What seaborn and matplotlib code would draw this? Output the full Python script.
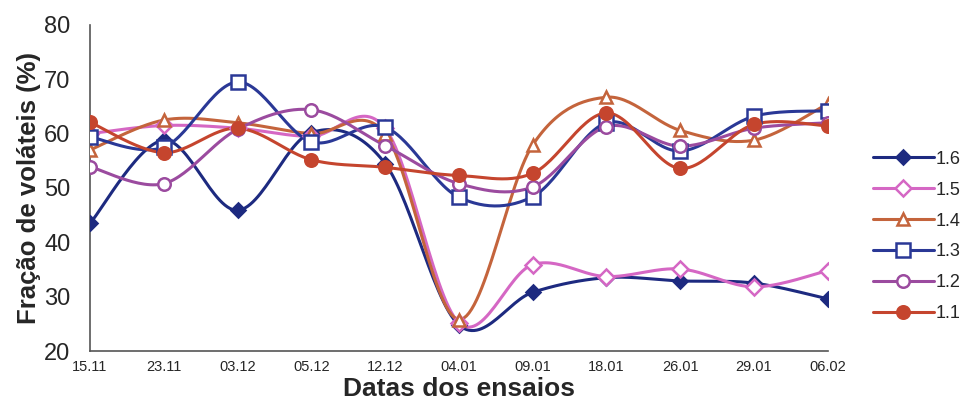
import numpy as np
import pandas as pd
import matplotlib
matplotlib.use("Agg")
import matplotlib.pyplot as plt
import seaborn as sns
from matplotlib.lines import Line2D

dates = ["15.11", "23.11", "03.12", "05.12", "12.12", "04.01", "09.01", "18.01", "26.01", "29.01", "06.02"]
s16 = [43.5, 58.8, 45.9, 60.2, 54.5, 24.8, 30.8, 33.5, 32.9, 32.5, 29.6]
s15 = [60.0, 61.5, 61.0, 59.5, 61.0, 25.2, 35.9, 33.7, 35.1, 31.8, 34.8]
s14 = [57.0, 62.5, 62.0, 60.0, 60.0, 25.8, 57.9, 66.7, 60.6, 58.8, 65.5]
s13 = [59.4, 57.5, 69.5, 58.5, 61.2, 48.3, 48.4, 62.0, 56.8, 63.2, 64.2]
s12 = [53.9, 50.8, 60.8, 64.4, 57.8, 50.8, 50.2, 61.3, 57.7, 61.0, 62.0]
s11 = [62.1, 56.5, 61.0, 55.2, 53.8, 52.3, 52.7, 63.8, 53.6, 61.7, 61.4]
names = ["1.6", "1.5", "1.4", "1.3", "1.2", "1.1"]
series = [s16, s15, s14, s13, s12, s11]

colors = ["#1d2a80", "#d567c4", "#c4643c", "#2a3896", "#9b4b9f", "#c5452e"]
markers = ["D", "D", "^", "s", "o", "o"]
faces = ["#1d2a80", "white", "white", "white", "white", "#c5452e"]
msizes = [7, 8, 9, 10, 9, 9]


def smooth(y, n=30):
    y = np.asarray(y, float)
    x = np.arange(len(y), dtype=float)
    P = np.column_stack([x, y])
    Pe = np.vstack([P[0], P, P[-1]])
    out = []
    t = np.linspace(0, 1, n)[:, None]
    for i in range(len(P) - 1):
        p0, p3 = Pe[i + 1], Pe[i + 2]
        c1 = p0 + (Pe[i + 2] - Pe[i]) / 6.0
        c2 = p3 - (Pe[i + 3] - Pe[i + 1]) / 6.0
        seg = ((1 - t) ** 3) * p0 + 3 * ((1 - t) ** 2) * t * c1 + 3 * (1 - t) * t ** 2 * c2 + t ** 3 * p3
        out.append(seg if i == 0 else seg[1:])
    out = np.vstack(out)
    return out[:, 0], out[:, 1]


sns.set_style("white")
plt.rcParams["font.family"] = ["Liberation Sans", "DejaVu Sans"]

fig = plt.figure(figsize=(9.67, 4.16), dpi=100)
ax = fig.add_axes([0.0931, 0.1562, 0.7629, 0.7838])

handles = []
for name, vals, c, m, fc, ms in zip(names, series, colors, markers, faces, msizes):
    xs, ys = smooth(vals)
    df = pd.DataFrame({"x": xs, "y": ys})
    sns.lineplot(data=df, x="x", y="y", ax=ax, color=c, lw=2.2, sort=False, estimator=None)
    ax.plot(np.arange(len(vals)), vals, linestyle="none", marker=m, markersize=ms,
            markerfacecolor=fc, markeredgecolor=c, markeredgewidth=1.8, zorder=5)
    handles.append(Line2D([0], [0], color=c, lw=2.2, marker=m, markersize=ms,
                          markerfacecolor=fc, markeredgecolor=c, markeredgewidth=1.8))

ax.set_xlim(0, len(dates) - 1)
ax.set_ylim(20, 80)
ax.set_xticks(range(len(dates)))
ax.set_xticklabels(dates, fontsize=10.5)
ax.set_yticks(range(20, 81, 10))
ax.tick_params(axis="y", labelsize=17, direction="out", length=6, width=1, color="#555555", pad=8)
ax.tick_params(axis="x", direction="inout", length=5, width=1, color="#555555", pad=4)
for s in ["top", "right"]:
    ax.spines[s].set_visible(False)
for s in ["left", "bottom"]:
    ax.spines[s].set_color("#555555")
    ax.spines[s].set_linewidth(1.2)

ax.set_xlabel("Datas dos ensaios", fontsize=19, fontweight="bold", labelpad=2)
ax.set_ylabel("Fração de voláteis (%)", fontsize=18.5, fontweight="bold", labelpad=2)

leg = fig.legend(handles, names, loc="upper left", bbox_to_anchor=(0.895, 0.655),
                 frameon=False, fontsize=13, handlelength=3.4, handletextpad=0.1,
                 labelspacing=0.77, borderaxespad=0)

fig.savefig("out.png", dpi=100)
